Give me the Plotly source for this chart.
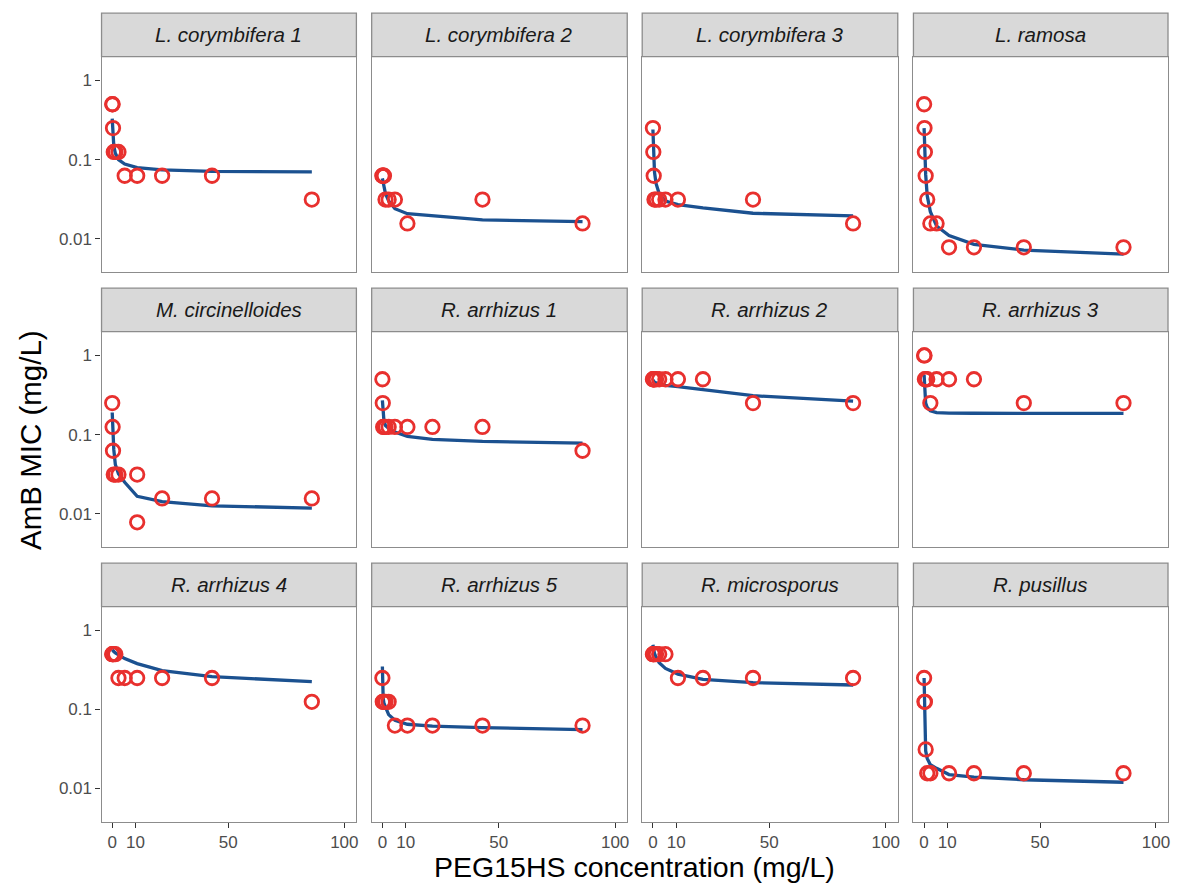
import plotly.graph_objects as go

# ---------------- data ----------------
species = ["L. corymbifera 1", "L. corymbifera 2", "L. corymbifera 3", "L. ramosa",
           "M. circinelloides", "R. arrhizus 1", "R. arrhizus 2", "R. arrhizus 3",
           "R. arrhizus 4", "R. arrhizus 5", "R. microsporus", "R. pusillus"]

conc = [0, 0.17, 0.34, 0.67, 1.34, 2.69, 5.38, 10.75, 21.5, 43, 86]

# observed MIC (mg/L) at each PEG15HS concentration
mic_lc1 = [0.5, 0.5, 0.25, 0.125, 0.125, 0.125, 0.0625, 0.0625, 0.0625, 0.0625, 0.03125]
mic_lc2 = [0.0625, 0.0625, 0.0625, 0.0625, 0.03125, 0.03125, 0.03125, 0.0156, None, 0.03125, 0.0156]
mic_lc3 = [0.25, 0.125, 0.0625, 0.03125, 0.03125, 0.03125, 0.03125, 0.03125, None, 0.03125, 0.0156]
mic_lr = [0.5, 0.25, 0.125, 0.0625, 0.03125, 0.0156, 0.0156, 0.0078, 0.0078, 0.0078, 0.0078]
mic_mc = [0.25, 0.125, 0.0625, 0.03125, 0.03125, 0.03125, None, 0.03125, 0.0156, 0.0156, 0.0156]
mic_ra1 = [0.5, 0.25, 0.125, 0.125, 0.125, 0.125, 0.125, 0.125, 0.125, 0.125, 0.0625]
mic_ra2 = [0.5, 0.5, 0.5, 0.5, 0.5, 0.5, 0.5, 0.5, 0.5, 0.25, 0.25]
mic_ra3 = [1, 1, 0.5, 0.5, 0.5, 0.25, 0.5, 0.5, 0.5, 0.25, 0.25]
mic_ra4 = [0.5, 0.5, 0.5, 0.5, 0.5, 0.25, 0.25, 0.25, 0.25, 0.25, 0.125]
mic_ra5 = [0.25, 0.125, 0.125, 0.125, 0.125, 0.125, 0.0625, 0.0625, 0.0625, 0.0625, 0.0625]
mic_rm = [0.5, 0.5, 0.5, 0.5, 0.5, 0.5, 0.5, 0.25, 0.25, 0.25, 0.25]
mic_rp = [0.25, 0.125, 0.125, 0.03125, 0.0156, 0.0156, None, 0.0156, 0.0156, 0.0156, 0.0156]

# replicate observation (M. circinelloides)
extra_species = ["M. circinelloides"]
extra_conc = [10.75]
extra_mic = [0.0078]

# fitted curve (mg/L) at the same concentrations
fit_lc1 = [0.33, 0.24, 0.19, 0.15, 0.12, 0.10, 0.088, 0.079, 0.074, 0.071, 0.070]
fit_lc2 = [0.058, 0.054, 0.050, 0.044, 0.037, 0.030, 0.024, 0.0207, 0.0195, 0.0173, 0.0165]
fit_lc3 = [0.24, 0.16, 0.11, 0.07, 0.05, 0.037, 0.030, 0.027, 0.0245, 0.021, 0.0195]
fit_lr = [0.25, 0.17, 0.11, 0.065, 0.035, 0.022, 0.0145, 0.011, 0.0085, 0.0072, 0.0064]
fit_mc = [0.19, 0.14, 0.10, 0.065, 0.042, 0.032, 0.025, 0.0166, 0.0142, 0.0126, 0.0118]
fit_ra1 = [0.27, 0.22, 0.18, 0.15, 0.13, 0.12, 0.108, 0.095, 0.087, 0.082, 0.078]
fit_ra2 = [0.49, 0.48, 0.47, 0.46, 0.45, 0.44, 0.42, 0.405, 0.37, 0.31, 0.265]
fit_ra3 = [0.57, 0.42, 0.32, 0.25, 0.22, 0.20, 0.19, 0.187, 0.186, 0.185, 0.185]
fit_ra4 = [0.57, 0.56, 0.55, 0.54, 0.52, 0.49, 0.44, 0.38, 0.31, 0.26, 0.225]
fit_ra5 = [0.35, 0.17, 0.14, 0.12, 0.105, 0.086, 0.073, 0.065, 0.0615, 0.059, 0.0557]
fit_rm = [0.66, 0.60, 0.56, 0.51, 0.46, 0.39, 0.33, 0.28, 0.24, 0.218, 0.204]
fit_rp = [0.25, 0.10, 0.05, 0.03, 0.024, 0.02, 0.018, 0.015, 0.0139, 0.0129, 0.012]

mic_all = [mic_lc1, mic_lc2, mic_lc3, mic_lr, mic_mc, mic_ra1, mic_ra2, mic_ra3,
           mic_ra4, mic_ra5, mic_rm, mic_rp]
fit_all = [fit_lc1, fit_lc2, fit_lc3, fit_lr, fit_mc, fit_ra1, fit_ra2, fit_ra3,
           fit_ra4, fit_ra5, fit_rm, fit_rp]

x_ticks = [0, 10, 50, 100]
x_ticklabels = ["0", "10", "50", "100"]
y_ticks = [0.01, 0.1, 1]
y_ticklabels = ["0.01", "0.1", "1"]

# ---------------- layout ----------------
PAGE_W, PAGE_H = 1179, 892
OFF = 8  # default page body margin
W, H = PAGE_W - 2 * OFF, PAGE_H - 2 * OFF

col_px = [(101.7, 357.0), (372.3, 628.3), (643.3, 899.3), (915.0, 1170.0)]
row_px = [(56.7, 272.0), (331.7, 547.0), (606.7, 821.7)]
strip_h = 43.5


def fx(p):
    return (p - OFF) / W


def fy(p):
    return 1 - (p - OFF) / H


FONT = "Liberation Sans, Arial, sans-serif"
BORDER = "#8C8C8C"
RED = "#E8302E"
BLUE = "#1B5190"

fig = go.Figure()
shapes = []
annotations = []
layout_axes = {}

for i, sp in enumerate(species):
    r, c = divmod(i, 4)
    k = i + 1
    xn = "x" if k == 1 else f"x{k}"
    yn = "y" if k == 1 else f"y{k}"
    xa = "xaxis" if k == 1 else f"xaxis{k}"
    ya = "yaxis" if k == 1 else f"yaxis{k}"
    x0, x1 = col_px[c]
    yt, yb = row_px[r]

    fig.add_trace(go.Scatter(
        x=conc, y=fit_all[i], mode="lines", xaxis=xn, yaxis=yn,
        line=dict(color=BLUE, width=3.3), showlegend=False, hoverinfo="skip"))
    px_, py_ = [], []
    for xv, yv in zip(conc, mic_all[i]):
        if yv is not None:
            px_.append(xv)
            py_.append(yv)
    for es, ex, ey in zip(extra_species, extra_conc, extra_mic):
        if es == sp:
            px_.append(ex)
            py_.append(ey)
    fig.add_trace(go.Scatter(
        x=px_, y=py_, mode="markers", xaxis=xn, yaxis=yn,
        marker=dict(symbol="circle-open", size=13.5, color=RED, line=dict(width=2.8, color=RED)),
        showlegend=False))

    bottom = (r == 2)
    left = (c == 0)
    layout_axes[xa] = dict(
        domain=[fx(x0), fx(x1)], anchor=yn, range=[-4.6, 105.2],
        showgrid=False, zeroline=False, showline=True, mirror=True,
        linecolor=BORDER, linewidth=1.3,
        tickmode="array", tickvals=x_ticks, ticktext=x_ticklabels,
        showticklabels=bottom, ticks="outside" if bottom else "",
        ticklen=5, tickwidth=1.3, tickcolor="#333333",
        tickfont=dict(family=FONT, size=17, color="#4D4D4D"))
    layout_axes[ya] = dict(
        domain=[fy(yb), fy(yt)], anchor=xn, type="log", range=[-2.42, 0.30],
        showgrid=False, zeroline=False, showline=True, mirror=True,
        linecolor=BORDER, linewidth=1.3,
        tickmode="array", tickvals=y_ticks, ticktext=y_ticklabels,
        showticklabels=left, ticks="outside" if left else "",
        ticklen=5, tickwidth=1.3, tickcolor="#333333",
        tickfont=dict(family=FONT, size=17, color="#4D4D4D"))

    # strip
    shapes.append(dict(type="rect", xref="paper", yref="paper",
                       x0=fx(x0), x1=fx(x1), y0=fy(yt), y1=fy(yt - strip_h),
                       fillcolor="#D9D9D9", line=dict(color=BORDER, width=1.3), layer="above"))
    annotations.append(dict(text=sp, xref="paper", yref="paper",
                            x=fx((x0 + x1) / 2), y=fy(yt - strip_h / 2),
                            showarrow=False, xanchor="center", yanchor="middle",
                            font=dict(family=FONT, size=20.5, color="#1A1A1A", style="italic")))

annotations.append(dict(text="PEG15HS concentration (mg/L)", xref="paper", yref="paper",
                        x=fx((101.7 + 1170) / 2), y=0, showarrow=False,
                        xanchor="center", yanchor="bottom", borderpad=0,
                        font=dict(family=FONT, size=28.5, color="#000000")))
annotations.append(dict(text="AmB MIC (mg/L)", xref="paper", yref="paper",
                        x=fx(30), y=fy(440), showarrow=False, textangle=-90,
                        xanchor="center", yanchor="middle",
                        font=dict(family=FONT, size=29.5, color="#000000")))

fig.update_layout(
    width=W, height=H, margin=dict(l=0, r=0, t=0, b=0),
    paper_bgcolor="white", plot_bgcolor="white",
    shapes=shapes, annotations=annotations, **layout_axes)

fig.write_html("out.html")
